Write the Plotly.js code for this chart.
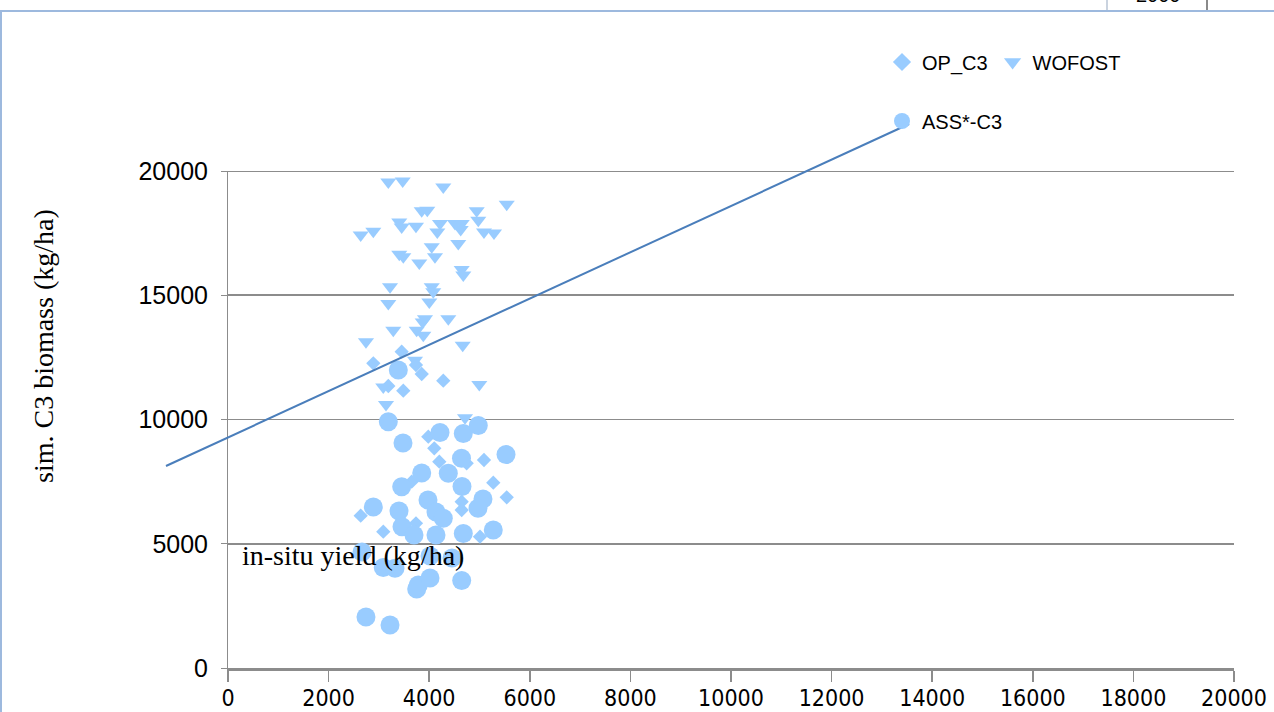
<!DOCTYPE html>
<html>
<head>
<meta charset="utf-8">
<script src="https://cdn.plot.ly/plotly-3.0.1.min.js"></script>
<style>html,body{margin:0;padding:0;background:#fff;}#chart{width:1274px;height:712px;}</style>
</head>
<body>
<div id="chart"></div>
<script>
// ---------- data ----------
const opX = [3453,2889,3737,3851,4280,3187,3485,3982,4101,4201,4745,5089,5274,5541,2638,3087,3737,4646,5010,4646,3652,3883];
const opY = [12728,12261,12193,11831,11561,11348,11159,9308,8840,8302,8237,8370,7457,6869,6128,5485,5823,6358,5283,6692,7497,7899];

const wofX = [3187,3473,4280,5541,3851,3962,4944,3405,3453,3737,4215,4161,4513,4646,4626,4976,5089,5288,2638,2889,4578,3405,3485,4050,4115,3803,4646,4678,3221,4050,4081,3187,4002,3916,3871,4380,3286,3751,3883,2743,4666,3718,4996,3087,3141,4712];
const wofY = [19560,19600,19360,18660,18400,18420,18400,17950,17750,17780,17890,17550,17890,17890,17650,18020,17550,17510,17420,17580,17080,16650,16550,16950,16550,16300,16040,15810,15340,15340,15140,14670,14730,14050,13920,14050,13590,13590,13390,13130,12990,12380,11410,11310,10600,10070];

const assX = [3386,3187,3479,4215,4678,4976,5527,4642,4380,3851,3453,4652,2889,3400,3976,4135,5069,4970,4280,5274,3459,3698,4135,4678,3087,3320,3783,3751,4016,4646,2743,3221,2664,4016,4453];
const assY = [11992,9911,9054,9476,9436,9758,8591,8438,7835,7847,7295,7304,6479,6318,6760,6277,6801,6426,6024,5553,5686,5352,5352,5412,4044,4012,3340,3179,3622,3521,2052,1730,4668,4507,4426];

const lineX = [-1233, 13540];
const lineY = [8130, 21890];

const xTicks = [0,2000,4000,6000,8000,10000,12000,14000,16000,18000,20000];
const yTicks = [0,5000,10000,15000,20000];

const seriesNames = ['OP_C3','WOFOST','ASS*-C3'];
const xTitle = 'in-situ yield (kg/ha)';
const yTitle = 'sim. C3 biomass (kg/ha)';
const topCell = '2000';

// ---------- layout geometry ----------
const W = 1274, H = 712;
const M = {l:150, r:20, t:20, b:30};
const pw = W - M.l - M.r, ph = H - M.t - M.b;
const X0 = 228, X1 = 1234, Y0 = 668, Y1 = 171;
const fx = px => (px - M.l) / pw;
const fy = py => (H - M.b - py) / ph;
const xs = 20000 / (X1 - X0), ys = 20000 / (Y0 - Y1);
const x2range = [(M.l - X0) * xs, (W - M.r - X0) * xs];
const y2range = [(Y0 - (H - M.b)) * ys, (Y0 - M.t) * ys];

const mcol = '#99CCFF';
const gray = '#8c8c8c';
const legFont = {family:'"Liberation Sans", Arial, sans-serif', size:20, color:'#000'};

const traces = [
  {type:'scatter', mode:'markers', name:seriesNames[0], x:opX, y:opY, xaxis:'x', yaxis:'y',
   marker:{symbol:'diamond', size:11, color:mcol}, showlegend:false, cliponaxis:false},
  {type:'scatter', mode:'markers', name:seriesNames[1], x:wofX, y:wofY, xaxis:'x', yaxis:'y',
   marker:{symbol:'triangle-down', size:14, color:mcol}, showlegend:false, cliponaxis:false},
  {type:'scatter', mode:'markers', name:seriesNames[2], x:assX, y:assY, xaxis:'x', yaxis:'y',
   marker:{symbol:'circle', size:19, color:mcol}, showlegend:false, cliponaxis:false},
  // legend entries (same series, larger legend symbols as in the reference)
  {type:'scatter', mode:'markers', name:seriesNames[0], x:[null], y:[null], xaxis:'x', yaxis:'y',
   marker:{symbol:'diamond', size:14, color:mcol}, legend:'legend'},
  {type:'scatter', mode:'markers', name:seriesNames[1], x:[null], y:[null], xaxis:'x', yaxis:'y',
   marker:{symbol:'triangle-down', size:15, color:mcol}, legend:'legend'},
  {type:'scatter', mode:'markers', name:seriesNames[2], x:[null], y:[null], xaxis:'x', yaxis:'y',
   marker:{symbol:'circle', size:16, color:mcol}, legend:'legend2'},
  {type:'scatter', mode:'lines', x:lineX, y:lineY, xaxis:'x2', yaxis:'y2',
   line:{color:'#4A7EBB', width:2}, showlegend:false, hoverinfo:'skip'}
];

const layout = {
  width:W, height:H, margin:M,
  paper_bgcolor:'#ffffff', plot_bgcolor:'rgba(0,0,0,0)',
  showlegend:true,
  xaxis:{domain:[fx(X0), fx(X1)], range:[0,20000], tickvals:xTicks, ticktext:xTicks.map(String),
    showgrid:false, zeroline:false, showline:true, linecolor:gray, linewidth:2.5,
    ticks:'outside', ticklen:11, tickcolor:gray, tickwidth:1.5, ticklabelstandoff:-3,
    tickfont:{family:'"DejaVu Sans Condensed", "Liberation Sans Narrow", sans-serif', size:23, color:'#000'},
    fixedrange:true},
  yaxis:{domain:[fy(Y0), fy(Y1)], range:[0,20000], tickvals:yTicks, ticktext:yTicks.map(String),
    showgrid:true, gridcolor:gray, gridwidth:1.8, zeroline:false, showline:true, linecolor:gray, linewidth:1,
    ticks:'outside', ticklen:6, tickcolor:gray, ticklabelstandoff:8,
    tickfont:{family:'"Liberation Sans", Arial, sans-serif', size:25, color:'#000'},
    fixedrange:true},
  xaxis2:{domain:[0,1], range:x2range, visible:false, anchor:'y2', fixedrange:true},
  yaxis2:{domain:[0,1], range:y2range, visible:false, anchor:'x2', fixedrange:true},
  legend:{orientation:'h', x:fx(882), y:fy(62), xanchor:'left', yanchor:'middle',
    bgcolor:'rgba(0,0,0,0)', itemsizing:'trace', font:legFont},
  legend2:{orientation:'h', x:fx(882), y:fy(121), xanchor:'left', yanchor:'middle',
    bgcolor:'rgba(0,0,0,0)', itemsizing:'trace', font:legFont},
  annotations:[
    {text:xTitle, xref:'paper', yref:'paper', x:fx(353), y:fy(555), xanchor:'center', yanchor:'middle',
     showarrow:false, font:{family:'"Liberation Serif", "Times New Roman", serif', size:28, color:'#000'}},
    {text:yTitle, xref:'paper', yref:'paper', x:fx(43), y:fy(346), xanchor:'center', yanchor:'middle',
     textangle:-90, showarrow:false, font:{family:'"Liberation Serif", "Times New Roman", serif', size:28, color:'#000'}},
    {text:topCell, xref:'paper', yref:'paper', x:fx(1158), y:fy(8), xanchor:'center', yanchor:'bottom',
     showarrow:false, font:{family:'"Liberation Sans", Arial, sans-serif', size:20, color:'#000'}}
  ],
  shapes:[
    // top gridline at 20000 (Plotly omits the gridline on the range edge)
    {type:'line', xref:'x', yref:'y', x0:0, x1:20000, y0:20000, y1:20000, layer:'below', line:{color:gray, width:1.8}},
    {type:'line', xref:'paper', yref:'paper', x0:fx(0), x1:fx(W), y0:fy(11), y1:fy(11), line:{color:'#9DB9DE', width:2}},
    {type:'line', xref:'paper', yref:'paper', x0:fx(1), x1:fx(1), y0:fy(11), y1:fy(H), line:{color:'#9DB9DE', width:2}},
    {type:'line', xref:'paper', yref:'paper', x0:fx(1107), x1:fx(1107), y0:fy(0), y1:fy(10), line:{color:'#b8c4d4', width:1.5}},
    {type:'line', xref:'paper', yref:'paper', x0:fx(1207), x1:fx(1207), y0:fy(0), y1:fy(10), line:{color:'#8a8a8a', width:2}}
  ]
};

Plotly.newPlot('chart', traces, layout, {staticPlot:true, displayModeBar:false});
</script>
</body>
</html>
